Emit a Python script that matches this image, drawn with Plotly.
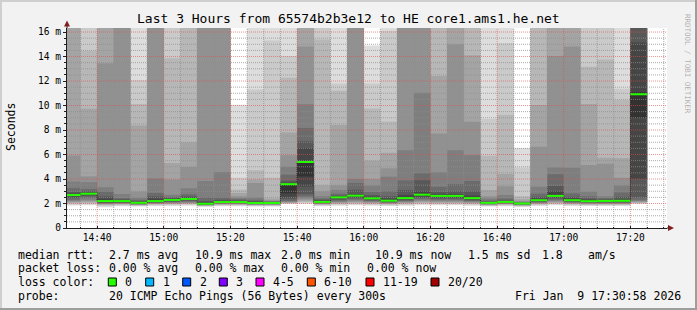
import plotly.graph_objects as go
from datetime import datetime, timedelta

# ---------------- data ----------------
DAY = "2026-01-09 "
OFF = 20.0  # ping slower than the top of the chart -> smoke reaches the top edge

bin_start = ["14:30", "14:35", "14:40", "14:45", "14:50", "14:55", "15:00", "15:05",
             "15:10", "15:15", "15:20", "15:25", "15:30", "15:35", "15:40", "15:45",
             "15:50", "15:55", "16:00", "16:05", "16:10", "16:15", "16:20", "16:25",
             "16:30", "16:35", "16:40", "16:45", "16:50", "16:55", "17:00", "17:05",
             "17:10", "17:15", "17:20"]
bin_end = "17:25"

median_ms = [2.69, 2.80, 2.20, 2.20, 2.06, 2.20, 2.29, 2.37, 1.98, 2.12, 2.12, 2.04,
             2.04, 3.58, 5.39, 2.13, 2.50, 2.64, 2.42, 2.23, 2.44, 2.72, 2.62, 2.62,
             2.44, 2.05, 2.13, 2.00, 2.27, 2.62, 2.27, 2.19, 2.21, 2.22, 10.92]

# 20 sorted ping round-trip times (ms) per 5-minute step
pings_ms = [
    [1.84, 1.92, 2.0, 2.08, 2.15, 2.22, 2.31, 2.45, 2.58, 2.66, 2.74, 2.8, 2.94, 3.24, 3.79, 5.92, OFF, OFF, OFF, OFF],
    [1.85, 1.94, 2.02, 2.1, 2.2, 2.3, 2.45, 2.6, 2.7, 2.77, 2.84, 2.9, 3.0, 3.18, 3.73, 4.22, 9.74, 14.47, OFF, OFF],
    [1.7, 1.8, 1.87, 1.92, 1.96, 2.0, 2.03, 2.07, 2.12, 2.17, 2.25, 2.4, 2.6, 2.97, 3.33, 13.45, OFF, OFF, OFF, OFF],
    [1.78, 1.84, 1.9, 1.95, 1.99, 2.02, 2.05, 2.09, 2.13, 2.17, 2.24, 2.28, 2.35, 2.45, 2.78, OFF, OFF, OFF, OFF, OFF],
    [1.75, 1.8, 1.84, 1.87, 1.9, 1.92, 1.95, 1.98, 2.01, 2.04, 2.09, 2.13, 2.2, 2.3, 2.47, 2.99, 8.37, 10.12, 12.09, OFF],
    [1.8, 1.86, 1.92, 1.96, 2.0, 2.03, 2.06, 2.1, 2.13, 2.17, 2.25, 2.4, 2.6, 2.86, 4.05, OFF, OFF, OFF, OFF, OFF],
    [1.8, 1.88, 1.94, 1.99, 2.03, 2.07, 2.12, 2.17, 2.22, 2.26, 2.33, 2.38, 2.45, 2.55, 2.72, 3.95, 5.31, 13.87, OFF, OFF],
    [1.82, 1.89, 1.95, 2.0, 2.05, 2.1, 2.16, 2.22, 2.28, 2.34, 2.42, 2.5, 2.6, 2.75, 3.24, 4.99, 7.0, OFF, OFF, OFF],
    [1.73, 1.78, 1.81, 1.84, 1.86, 1.88, 1.9, 1.92, 1.94, 1.96, 2.02, 2.08, 2.2, 2.5, 3.84, OFF, OFF, OFF, OFF, OFF],
    [1.77, 1.83, 1.88, 1.92, 1.95, 1.98, 2.01, 2.04, 2.07, 2.1, 2.15, 2.2, 2.3, 2.5, 4.58, OFF, OFF, OFF, OFF, OFF],
    [1.77, 1.83, 1.88, 1.92, 1.95, 1.98, 2.01, 2.04, 2.07, 2.1, 2.16, 2.2, 2.25, 2.35, 2.45, 2.6, 2.85, 3.15, 4.1, 10.07],
    [1.75, 1.8, 1.84, 1.87, 1.9, 1.92, 1.95, 1.97, 2.0, 2.02, 2.08, 2.12, 2.2, 2.3, 2.5, 3.68, 3.95, 4.71, 11.3, OFF],
    [1.75, 1.8, 1.84, 1.87, 1.9, 1.93, 1.95, 1.97, 2.0, 2.02, 2.06, 2.09, 2.12, 2.16, 2.2, 2.27, 2.4, 4.1, 15.3, OFF],
    [1.95, 2.0, 2.03, 2.06, 2.1, 2.15, 2.2, 2.35, 2.5, 2.84, 3.62, 3.7, 3.85, 4.35, 5.0, 5.95, 7.8, 12.27, 14.05, OFF],
    [1.95, 2.05, 2.12, 2.2, 2.3, 2.42, 2.58, 2.75, 3.38, 4.2, 5.45, 6.54, 7.1, 8.16, 10.1, 14.82, OFF, OFF, OFF, OFF],
    [1.78, 1.84, 1.89, 1.93, 1.96, 1.99, 2.02, 2.05, 2.08, 2.11, 2.17, 2.22, 2.3, 2.4, 2.6, 3.0, 3.5, 15.4, OFF, OFF],
    [1.82, 1.9, 1.96, 2.02, 2.08, 2.14, 2.22, 2.3, 2.4, 2.47, 2.53, 2.58, 2.65, 2.8, 3.1, 3.5, 8.4, 11.2, 11.8, OFF],
    [1.85, 1.93, 2.0, 2.08, 2.15, 2.24, 2.33, 2.42, 2.52, 2.6, 2.68, 2.75, 3.13, 3.68, 4.0, OFF, OFF, OFF, OFF, OFF],
    [1.82, 1.9, 1.96, 2.02, 2.08, 2.14, 2.2, 2.27, 2.34, 2.39, 2.46, 2.55, 2.7, 2.94, 3.46, 4.0, 5.5, 9.75, 11.8, 14.9],
    [1.8, 1.86, 1.92, 1.97, 2.01, 2.05, 2.09, 2.13, 2.17, 2.2, 2.28, 2.4, 2.6, 3.0, 4.18, 4.88, 6.15, 8.7, 16.1, OFF],
    [1.82, 1.9, 1.96, 2.02, 2.08, 2.14, 2.2, 2.27, 2.34, 2.41, 2.5, 2.7, 3.1, 3.87, 6.35, OFF, OFF, OFF, OFF, OFF],
    [1.86, 1.95, 2.03, 2.1, 2.18, 2.27, 2.36, 2.46, 2.58, 2.68, 2.78, 3.0, 3.9, 4.47, 11.05, OFF, OFF, OFF, OFF, OFF],
    [1.85, 1.93, 2.0, 2.07, 2.14, 2.22, 2.3, 2.4, 2.5, 2.58, 2.66, 2.75, 2.95, 3.37, 4.55, 7.72, 12.42, OFF, OFF, OFF],
    [1.85, 1.93, 2.0, 2.07, 2.14, 2.22, 2.3, 2.4, 2.5, 2.58, 2.66, 2.75, 3.0, 3.6, 6.35, 15.0, OFF, OFF, OFF, OFF],
    [1.82, 1.9, 1.96, 2.02, 2.08, 2.14, 2.2, 2.27, 2.34, 2.41, 2.5, 2.65, 3.0, 3.84, 5.94, 8.67, 14.1, OFF, OFF, OFF],
    [1.75, 1.8, 1.84, 1.87, 1.9, 1.93, 1.96, 1.98, 2.01, 2.03, 2.07, 2.1, 2.15, 2.25, 2.4, 2.6, 3.1, 5.9, 8.9, OFF],
    [1.78, 1.84, 1.89, 1.93, 1.96, 1.99, 2.02, 2.05, 2.08, 2.11, 2.15, 2.18, 2.25, 2.4, 2.7, 3.4, 4.4, 9.25, 15.1, OFF],
    [1.72, 1.77, 1.81, 1.84, 1.87, 1.9, 1.92, 1.94, 1.96, 1.98, 2.01, 2.03, 2.05, 2.08, 2.12, 2.2, 2.35, 2.6, 4.95, 6.53],
    [1.8, 1.87, 1.93, 1.98, 2.02, 2.06, 2.1, 2.15, 2.2, 2.24, 2.32, 2.4, 2.55, 2.8, 3.36, 6.63, 10.04, OFF, OFF, OFF],
    [1.85, 1.93, 2.0, 2.07, 2.14, 2.22, 2.3, 2.4, 2.5, 2.58, 2.7, 3.0, 3.42, 4.38, 4.95, 14.05, OFF, OFF, OFF, OFF],
    [1.8, 1.87, 1.93, 1.98, 2.02, 2.06, 2.1, 2.15, 2.2, 2.24, 2.32, 2.42, 2.55, 2.82, 4.92, 14.82, OFF, OFF, OFF, OFF],
    [1.79, 1.85, 1.9, 1.94, 1.98, 2.02, 2.06, 2.1, 2.13, 2.16, 2.24, 2.3, 2.4, 2.6, 2.96, 5.15, 10.12, 13.17, OFF, OFF],
    [1.79, 1.85, 1.9, 1.95, 1.99, 2.03, 2.07, 2.11, 2.15, 2.18, 2.24, 2.28, 2.35, 2.45, 2.6, 5.25, 5.73, 13.75, OFF, OFF],
    [1.79, 1.85, 1.9, 1.95, 1.99, 2.03, 2.07, 2.11, 2.15, 2.19, 2.26, 2.35, 2.55, 2.9, 3.47, 4.1, 5.7, 10.45, 11.36, OFF],
    [1.95, 2.0, 2.05, 2.1, 2.15, 2.2, 2.3, 2.5, 4.0, 9.0, 11.1, 15.15, OFF, OFF, OFF, OFF, OFF, OFF, OFF, OFF],
]

y_ticks = [0, 2, 4, 6, 8, 10, 12, 14, 16]
y_ticktext = ["0", "2 m", "4 m", "6 m", "8 m", "10 m", "12 m", "14 m", "16 m"]
x_ticks = ["14:40", "15:00", "15:20", "15:40", "16:00", "16:20", "16:40", "17:00", "17:20"]

title_text = "Last 3 Hours from 65574b2b3e12 to HE core1.ams1.he.net"
legend_rows = [
    [("median rtt:", 16), ("2.7 ms avg", 107.3), ("10.9 ms max", 193.3), ("2.0 ms min", 279.3),
     ("10.9 ms now", 372.7), ("1.5 ms sd", 465.7), ("1.8", 540.3), ("am/s", 585.7)],
    [("packet loss:", 16), ("0.00 % avg", 107.3), ("0.00 % max", 193.3), ("0.00 % min", 279.3),
     ("0.00 % now", 365.0)],
    [("loss color:", 16)],
    [("probe:", 16), ("20 ICMP Echo Pings (56 Bytes) every 300s", 107.3),
     ("Fri Jan \u00a09 17:30:58 2026", 513.3)],
]
loss_labels = ["0", "1", "2", "3", "4-5", "6-10", "11-19", "20/20"]
loss_colors = ["#26ff00", "#00b8ff", "#0059ff", "#7e00ff", "#ff00ff", "#ff5500", "#ff0000", "#a10000"]
loss_box_x = [108.3, 145.7, 182.7, 219.3, 256.0, 307.3, 366.0, 431.0]

# ---------------- geometry helpers ----------------
W, H = 697, 310
L, R, T, B = 67, 30, 28, 82
PW, PH = W - L - R, H - T - B
FONT = "DejaVu Sans Mono"


def px(x):
    return (x - L) / PW


def py(y):
    return (H - B - y) / PH


YMAX = 16.33
t_start = datetime(2026, 1, 9, 14, 30, 58)
t_end = t_start + timedelta(hours=3)

fig = go.Figure()

# ---------------- smoke ----------------
xs = [DAY + t for t in bin_start] + [DAY + bin_end]
HALF = 10
for ibot in range(1, HALF + 1):
    itop = 2 * HALF + 1 - ibot
    c = int(190 / HALF * (HALF - ibot)) + 50
    lo = [p[ibot - 1] for p in pings_ms]
    hi = [p[itop - 1] for p in pings_ms]
    lo.append(lo[-1])
    hi.append(hi[-1])
    fig.add_trace(go.Scatter(x=xs, y=lo, mode="lines", line=dict(width=0, shape="hv"),
                             hoverinfo="skip", showlegend=False))
    fig.add_trace(go.Scatter(x=xs, y=hi, mode="lines", line=dict(width=0, shape="hv"),
                             fill="tonexty", fillcolor=f"rgb({c},{c},{c})",
                             hoverinfo="skip", showlegend=False))

# ---------------- grid (drawn over the smoke, like rrdtool) ----------------
minor_gx, minor_gy, major_gx, major_gy = [], [], [], []
t = datetime(2026, 1, 9, 14, 35)
while t <= t_end:
    s = t.strftime("%Y-%m-%d %H:%M:%S")
    if t.minute % 20 == 0:
        major_gx += [s, s, None]
        major_gy += [0, YMAX, None]
    else:
        minor_gx += [s, s, None]
        minor_gy += [0, YMAX, None]
    t += timedelta(minutes=5)
xs0, xs1 = t_start.strftime("%Y-%m-%d %H:%M:%S"), t_end.strftime("%Y-%m-%d %H:%M:%S")
k = 1
while k * 0.5 <= YMAX:
    v = k * 0.5
    if k % 4 == 0:
        major_gx += [xs0, xs1, None]
        major_gy += [v, v, None]
    else:
        minor_gx += [xs0, xs1, None]
        minor_gy += [v, v, None]
    k += 1
fig.add_trace(go.Scatter(x=minor_gx, y=minor_gy, mode="lines",
                         line=dict(color="rgba(143,143,143,0.75)", width=1, dash="1px,1px"),
                         hoverinfo="skip", showlegend=False))
fig.add_trace(go.Scatter(x=major_gx, y=major_gy, mode="lines",
                         line=dict(color="rgba(222,79,79,0.6)", width=1, dash="1px,1px"),
                         hoverinfo="skip", showlegend=False))

# ---------------- median ----------------
fig.add_trace(go.Scatter(x=xs, y=median_ms + [median_ms[-1]], mode="lines",
                         line=dict(color="#202020", width=1, shape="hv", dash="1px,1px"),
                         hoverinfo="skip", showlegend=False))
gx, gy = [], []
for i, m in enumerate(median_ms):
    gx += [xs[i], xs[i + 1], None]
    gy += [m, m, None]
fig.add_trace(go.Scatter(x=gx, y=gy, mode="lines", line=dict(color=loss_colors[0], width=2),
                         hoverinfo="skip", showlegend=False))

# ---------------- axes ----------------
fig.update_xaxes(type="date", range=[xs0, xs1],
                 tickvals=[DAY + v for v in x_ticks], ticktext=x_ticks,
                 showgrid=False, zeroline=False, showline=True, linecolor="#1f1f1f", linewidth=1,
                 ticks="inside", ticklen=2, tickcolor="#1f1f1f",
                 tickfont=dict(family=FONT, size=9.6, color="#000"),
                 minor=dict(ticks="inside", ticklen=1, tickcolor="#1f1f1f",
                            dtick=300000, tick0=DAY + "14:30:00", showgrid=False),
                 fixedrange=True)
fig.update_yaxes(range=[0, YMAX], tickvals=y_ticks, ticktext=y_ticktext,
                 showgrid=False, zeroline=False, showline=True, linecolor="#1f1f1f", linewidth=1,
                 ticks="outside", ticklen=3, tickcolor="#1f1f1f",
                 tickfont=dict(family=FONT, size=9.6, color="#000"),
                 minor=dict(ticks="outside", ticklen=2, tickcolor="#1f1f1f", dtick=0.5,
                            showgrid=False),
                 fixedrange=True)

# ---------------- shapes: frame, axis extensions, arrows ----------------
shapes = []


def rect(x0, y0, x1, y1, color):
    shapes.append(dict(type="rect", xref="paper", yref="paper", x0=px(x0), x1=px(x1),
                       y0=py(y0), y1=py(y1), fillcolor=color, line=dict(width=0), layer="above"))


rect(0, 0, W, 2, "#cfcfcf")
rect(0, 0, 2, H, "#cfcfcf")
rect(0, H - 2, W, H, "#9e9e9e")
rect(W - 2, 0, W, H, "#9e9e9e")
shapes.append(dict(type="line", xref="paper", yref="paper", x0=px(67), x1=px(67),
                   y0=py(28), y1=py(24), line=dict(color="#1f1f1f", width=1)))
shapes.append(dict(type="line", xref="paper", yref="paper", x0=px(667), x1=px(669),
                   y0=py(228), y1=py(228), line=dict(color="#1f1f1f", width=1)))
shapes.append(dict(type="path", xref="paper", yref="paper",
                   path=f"M {px(64)},{py(26.5)} L {px(70)},{py(26.5)} L {px(67)},{py(20.5)} Z",
                   fillcolor="#801f1f", line=dict(width=0)))
shapes.append(dict(type="path", xref="paper", yref="paper",
                   path=f"M {px(668)},{py(225)} L {px(668)},{py(231)} L {px(674)},{py(228)} Z",
                   fillcolor="#801f1f", line=dict(width=0)))
for bx, col in zip(loss_box_x, loss_colors):
    shapes.append(dict(type="rect", xref="paper", yref="paper", x0=px(bx), x1=px(bx + 8),
                       y0=py(278), y1=py(286), fillcolor=col,
                       line=dict(color="#000000", width=1)))

# ---------------- annotations ----------------
ann = []
ann.append(dict(text=title_text, x=px(348), y=py(18.5), xref="paper", yref="paper",
                xanchor="center", yanchor="middle", showarrow=False,
                font=dict(family=FONT, size=13, color="#000")))
ann.append(dict(text="Seconds", x=px(11), y=py(127), xref="paper", yref="paper",
                xanchor="center", yanchor="middle", showarrow=False, textangle=-90,
                font=dict(family=FONT, size=11.5, color="#000")))
ann.append(dict(text="RRDTOOL / TOBI OETIKER", x=px(688), y=py(64), xref="paper", yref="paper",
                xanchor="center", yanchor="middle", showarrow=False, textangle=90,
                font=dict(family=FONT, size=7.5, color="rgba(0,0,0,0.3)")))
row_y = [254.5, 268.3, 282.3, 296.0]
for yy, row in zip(row_y, legend_rows):
    for txt, xx in row:
        ann.append(dict(text=txt, x=px(xx), y=py(yy), xref="paper", yref="paper",
                        xanchor="left", yanchor="middle", showarrow=False,
                        font=dict(family=FONT, size=11.5, color="#000")))
for bx, lab in zip(loss_box_x, loss_labels):
    ann.append(dict(text=lab, x=px(bx + 15), y=py(282.3), xref="paper", yref="paper",
                    xanchor="left", yanchor="middle", showarrow=False,
                    font=dict(family=FONT, size=11.5, color="#000")))

fig.update_layout(width=W, height=H, margin=dict(l=L, r=R, t=T, b=B, pad=0),
                  paper_bgcolor="#f2f2f2", plot_bgcolor="#ffffff", showlegend=False,
                  shapes=shapes, annotations=ann, hovermode=False,
                  font=dict(family=FONT, size=10, color="#000"))

fig.write_html("out.html")
